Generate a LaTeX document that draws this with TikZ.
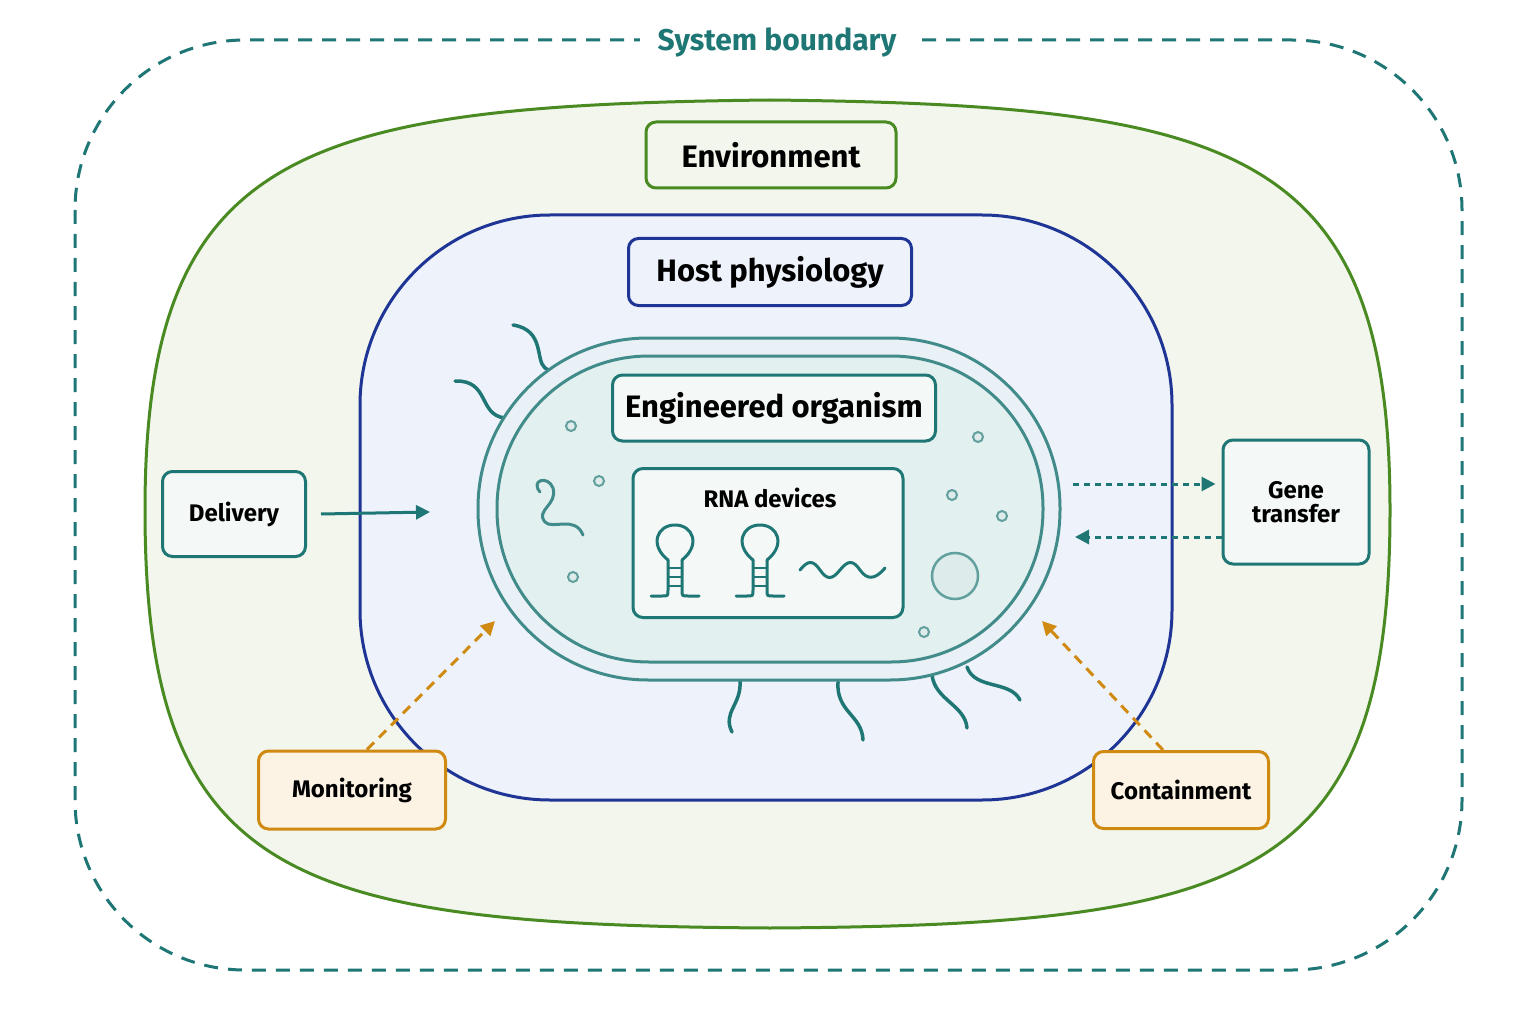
\documentclass[tikz,border=0pt]{standalone}
\usepackage{fontspec}
\setmainfont{Fira Sans}
\usetikzlibrary{arrows.meta}
\definecolor{teal}{HTML}{1F7775}
\definecolor{grn}{HTML}{4A8A22}
\definecolor{blu}{HTML}{1E3596}
\definecolor{org}{HTML}{D08A12}
\definecolor{envf}{HTML}{F2F6EC}
\definecolor{hostf}{HTML}{EEF2FA}
\definecolor{cellf}{HTML}{E2F0EF}
\definecolor{boxf}{HTML}{F4F9F8}
\definecolor{orgf}{HTML}{FDF3E5}
\begin{document}
\begin{tikzpicture}[x=1pt,y=-1pt,
  tbox/.style={draw=teal,line width=3pt,rounded corners=10pt,fill=boxf,inner sep=0pt,font=\fontsize{24}{28}\selectfont\bfseries},
  obox/.style={draw=org,line width=3pt,rounded corners=10pt,fill=orgf,inner sep=0pt,font=\fontsize{24}{28}\selectfont\bfseries},
  big/.style={font=\fontsize{31}{36}\selectfont\bfseries},
  fl/.style={draw=teal,line width=3.5pt,line cap=round},
  dot/.style={draw=teal!70,line width=2pt,fill=teal!15}]
\useasboundingbox (0,0) rectangle (1536,1024);
\fill[white] (0,0) rectangle (1536,1024);
% system boundary
\draw[teal,line width=3pt,dash pattern=on 14pt off 10pt,rounded corners=170pt] (75,40) rectangle (1462,970);
\node[fill=white,inner xsep=18pt,text=teal,font=\fontsize{30}{34}\selectfont\bfseries] (sys) at (777,42) {System boundary};
% environment
\draw[grn,line width=3pt,fill=envf] (145,510) .. controls (145,150) and (300,105) .. (770,100)
  .. controls (1240,105) and (1390,150) .. (1390,510)
  .. controls (1390,880) and (1250,925) .. (770,928)
  .. controls (290,925) and (145,880) .. (145,510) -- cycle;
% host
\draw[blu,line width=3pt,fill=hostf,rounded corners=190pt] (360,215) rectangle (1172,800);
% flagella
\draw[fl] (513,325) .. controls (545,330) and (535,360) .. (545,368) .. controls (552,372) .. (557,372);
\draw[fl] (455,381) .. controls (490,380) and (478,415) .. (505,418);
\draw[fl] (740,680) .. controls (742,705) and (722,712) .. (732,732);
\draw[fl] (838,682) .. controls (836,712) and (862,715) .. (863,740);
\draw[fl] (932,675) .. controls (935,700) and (965,705) .. (967,728);
\draw[fl] (967,667) .. controls (975,690) and (1010,680) .. (1020,700);
% cell
\draw[teal!85,line width=3pt,fill=hostf!60!cellf,rounded corners=170pt] (478,338) rectangle (1060,680);
\draw[teal!85,line width=3pt,fill=cellf,rounded corners=152pt] (497,356) rectangle (1043,662);
% dots
\foreach \p in {(571,426),(599,481),(573,577),(978,437),(952,495),(1002,516),(924,632)} \draw[dot] \p circle (5pt);
\draw[dot,line width=2.5pt] (955,576) circle (23pt);
\draw[teal!85,line width=3pt,line cap=round] (540,492) .. controls (530,480) and (548,475) .. (553,488) .. controls (558,505) and (535,510) .. (545,522) .. controls (552,530) and (575,515) .. (583,535);
% boxes
\node[big,draw=grn,line width=3pt,rounded corners=10pt,fill=envf,minimum width=250pt,minimum height=66pt] (env) at (771,155) {Environment};
\node[big,draw=blu,line width=3pt,rounded corners=10pt,fill=hostf,minimum width=283pt,minimum height=67pt] (host) at (770,272) {Host physiology};
\node[tbox,big,minimum width=323pt,minimum height=66pt] (eng) at (774,408) {Engineered organism};
\node[tbox,minimum width=270pt,minimum height=149pt] (rna) at (768,543) {};
\node[font=\fontsize{24}{28}\selectfont\bfseries] (rnat) at (770,498) {RNA devices};
% hairpins
\foreach \cx in {675,760}{
  \draw[teal,line width=3pt,line cap=round] (\cx-7,560) .. controls (\cx-26,545) and (\cx-18,525) .. (\cx,525) .. controls (\cx+18,525) and (\cx+26,545) .. (\cx+7,560);
  \draw[teal,line width=3pt,line cap=round] (\cx-7,560) -- (\cx-7,590) .. controls (\cx-7,596) .. (\cx-13,596) -- (\cx-24,596);
  \draw[teal,line width=3pt,line cap=round] (\cx+7,560) -- (\cx+7,590) .. controls (\cx+7,596) .. (\cx+13,596) -- (\cx+24,596);
  \foreach \yy in {568,577,586} \draw[teal,line width=2pt] (\cx-7,\yy) -- (\cx+7,\yy);
}
\draw[teal,line width=3pt,line cap=round] (800,570) .. controls (808,560) and (813,560) .. (820,570) .. controls (827,580) and (832,580) .. (840,570) .. controls (848,560) and (853,560) .. (860,570) .. controls (867,580) and (875,580) .. (885,568);
\node[tbox,minimum width=143pt,minimum height=85pt] (del) at (234,514) {Delivery};
\node[tbox,minimum width=146pt,minimum height=124pt,align=center] (gene) at (1296,502) {Gene\\[-4pt]transfer};
\node[obox,minimum width=187pt,minimum height=78pt] (mon) at (352,790) {Monitoring};
\node[obox,minimum width=175pt,minimum height=77pt] (con) at (1181,790) {Containment};
% arrows
\coordinate (dA) at (430,512);
\draw[teal,line width=3pt,-{Triangle[length=14pt,width=14pt]}] ([xshift=14pt]del.east) -- (dA);
\coordinate (g1) at (1073,484);
\coordinate (g2) at (1075,537);
\draw[teal,line width=3pt,dash pattern=on 6pt off 5pt,-{Triangle[length=14pt,width=14pt]}] (g1) -- ([xshift=-6pt]gene.west |- g1);
\draw[teal,line width=3pt,dash pattern=on 6pt off 5pt,-{Triangle[length=14pt,width=14pt]}] (gene.west |- g2) -- (g2);
\coordinate (m1) at (495,621);
\coordinate (c1) at (1042,621);
\draw[org,line width=3pt,dash pattern=on 10pt off 7pt,-{Triangle[length=14pt,width=14pt]}] ([xshift=15pt]mon.north) -- (m1);
\draw[org,line width=3pt,dash pattern=on 10pt off 7pt,-{Triangle[length=14pt,width=14pt]}] ([xshift=-18pt]con.north) -- (c1);
\end{tikzpicture}
\end{document}
